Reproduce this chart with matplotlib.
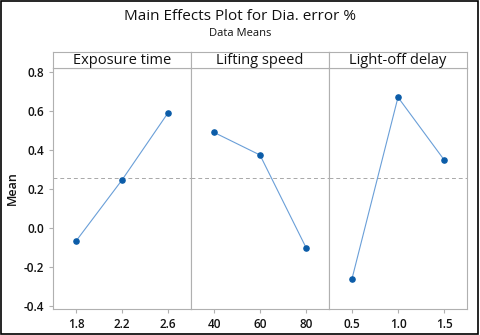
import matplotlib
matplotlib.use("Agg")
import matplotlib.pyplot as plt
from matplotlib.patches import Rectangle
import numpy as np

plt.rcParams["font.family"] = ["Open Sans", "DejaVu Sans"]

# data
factors = ["Exposure time", "Lifting speed", "Light-off delay"]
exposure_x = [1.8, 2.2, 2.6]
exposure_y = [-0.067, 0.246, 0.59]
lifting_x = [40, 60, 80]
lifting_y = [0.49, 0.374, -0.10]
delay_x = [0.5, 1.0, 1.5]
delay_y = [-0.26, 0.67, 0.35]
tick_labels = [["1.8", "2.2", "2.6"], ["40", "60", "80"], ["0.5", "1.0", "1.5"]]

series = [(exposure_x, exposure_y), (lifting_x, lifting_y), (delay_x, delay_y)]
grand_mean = np.mean(exposure_y)

W, H = 480, 335
fig = plt.figure(figsize=(W / 100, H / 100), dpi=100)
fig.patch.set_facecolor("white")
fig.add_artist(Rectangle((0.002, 0.003), 0.994, 0.993, transform=fig.transFigure,
                         fill=False, edgecolor="black", linewidth=1.2))

left, right = 53 / W, 467 / W
bottom, top = 1 - 309 / H, 1 - 68 / H
strip_top = 1 - 52 / H
pw = (right - left) / 3
grid_c = "#b0b0b0"
txt_c = "#111111"

fig.text(0.5, 1 - 16 / H, "Main Effects Plot for Dia. error %", ha="center", va="center",
         fontsize=11, color=txt_c)
fig.text(0.5, 1 - 33 / H, "Data Means", ha="center", va="center", fontsize=8,
         color=txt_c)

for i, ((xs, ys), name, tl) in enumerate(zip(series, factors, tick_labels)):
    ax = fig.add_axes([left + i * pw, bottom, pw, top - bottom])
    cats = np.arange(len(xs))
    ax.plot(cats, ys, color="#6a9fd8", linewidth=0.8, zorder=3)
    ax.scatter(cats, ys, s=14, color="#0b5ca8", zorder=4)
    ax.axhline(grand_mean, color="#a8a8a8", linestyle=(0, (4, 3)), linewidth=0.7, zorder=1)
    ax.set_xlim(-0.5, 2.5)
    ax.set_ylim(-0.415, 0.82)
    ax.set_xticks(cats)
    ax.set_xticklabels(tl, fontweight="semibold")
    for s in ax.spines.values():
        s.set_color(grid_c)
        s.set_linewidth(0.8)
    ax.tick_params(axis="both", colors=grid_c, labelcolor=txt_c, labelsize=8.5,
                   length=3, width=0.8)
    if i == 0:
        ax.set_yticks([-0.4, -0.2, 0.0, 0.2, 0.4, 0.6, 0.8])
        ax.set_yticklabels(["-0.4", "-0.2", "0.0", "0.2", "0.4", "0.6", "0.8"],
                           fontweight="semibold")
        ax.set_ylabel("Mean", fontsize=9, fontweight="semibold", color=txt_c, labelpad=3)
    else:
        ax.tick_params(axis="y", left=False, labelleft=False)

    sax = fig.add_axes([left + i * pw, top, pw, strip_top - top])
    sax.set_xticks([]); sax.set_yticks([])
    for s in sax.spines.values():
        s.set_color(grid_c)
        s.set_linewidth(0.8)
    sax.text(0.5, 0.45, name, ha="center", va="center", fontsize=10.5,
             color=txt_c, transform=sax.transAxes)

fig.savefig("out.png", dpi=100, facecolor="white")
